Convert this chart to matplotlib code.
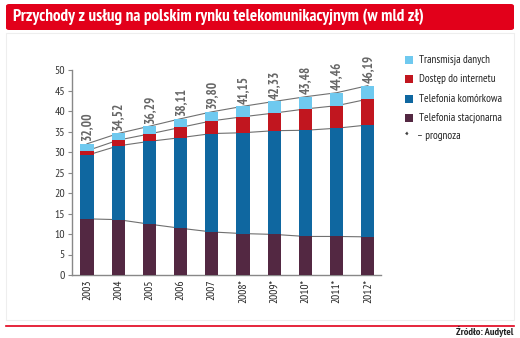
import numpy as np
import matplotlib.pyplot as plt
from matplotlib.patches import FancyBboxPatch, Rectangle

plt.rcParams['font.family'] = ['PT Sans Narrow', 'DejaVu Sans']

years     = ['2003', '2004', '2005', '2006', '2007', '2008*', '2009*', '2010*', '2011*', '2012*']
stacjon   = [13.7, 13.5, 12.4, 11.4, 10.5, 10.1, 9.9, 9.4, 9.4, 9.3]
komorkowa = [15.5, 18.0, 20.2, 22.1, 24.0, 24.6, 25.3, 25.9, 26.4, 27.3]
internet  = [1.1, 1.4, 1.8, 2.5, 3.1, 3.9, 4.3, 5.2, 5.5, 6.3]
totals    = [32.00, 34.52, 36.29, 38.11, 39.80, 41.15, 42.33, 43.48, 44.46, 46.19]
labels    = ['Transmisja danych', 'Dostęp do internetu', 'Telefonia komórkowa', 'Telefonia stacjonarna']
colors    = ['#6fc9ef', '#c1161f', '#0f67a0', '#532842']

s1 = np.array(stacjon)
s2 = s1 + np.array(komorkowa)
s3 = s2 + np.array(internet)
tot = np.array(totals)
transmisja = tot - s3

W, H = 520, 338
fig = plt.figure(figsize=(W/100, H/100), dpi=100)

# title banner
fig.patches.append(FancyBboxPatch((6/W, 1 - 30/H), 508/W, 26/H, boxstyle='round,pad=0,rounding_size=0.006',
                                  transform=fig.transFigure, facecolor='#e2001a', edgecolor='none'))
fig.text(13/W, 1 - 17/H, 'Przychody z usług na polskim rynku telekomunikacyjnym (w mld zł)',
         color='white', fontsize=12.3, fontweight='bold', va='center', ha='left')
# panel border and bottom line
fig.patches.append(Rectangle((6/W, 1 - 320/H), 508/W, 287/H, transform=fig.transFigure,
                             facecolor='none', edgecolor='#eeeeee', lw=0.8))
fig.lines.append(plt.Line2D([6/W, 514/W], [1 - 326/H, 1 - 326/H], transform=fig.transFigure,
                            color='#e2001a', lw=1.2))
fig.text(513/W, 1 - 332/H, 'Źródło: Audytel', ha='right', va='center', fontsize=7.5, fontweight='bold', color='#222222')

ax = fig.add_axes([72/W, 1 - 275/H, 309/W, 205/H])
x = np.arange(len(years))
bw = 0.42
ax.bar(x, stacjon, bw, color=colors[3], zorder=3)
ax.bar(x, komorkowa, bw, bottom=s1, color=colors[2], zorder=3)
ax.bar(x, internet, bw, bottom=s2, color=colors[1], zorder=3)
ax.bar(x, transmisja, bw, bottom=s3, color=colors[0], zorder=3)
for lv in (s1, s2, s3, tot):
    ax.plot(x, lv, color='#707070', lw=0.8, zorder=2)
for xi, t in zip(x, totals):
    ax.text(xi, t + 0.6, ('%.2f' % t).replace('.', ','), rotation=90, ha='center', va='bottom',
            fontsize=9.5, fontweight='bold', color='#666666')

ax.set_xlim(-0.48, 9.42)
ax.set_ylim(0, 50)
ax.set_yticks(np.arange(0, 51, 5))
ax.set_xticks(x)
ax.set_xticklabels(years, rotation=90, fontsize=8.3, color='#222222')
ax.tick_params(axis='x', length=0, pad=3)
ax.tick_params(axis='y', length=3, width=0.8, color='#888888', labelsize=8.5, labelcolor='#333333', pad=2)
for sp in ('top', 'right'):
    ax.spines[sp].set_visible(False)
for sp in ('left', 'bottom'):
    ax.spines[sp].set_color('#888888')
    ax.spines[sp].set_linewidth(1.0)

# legend
ly = [60, 79, 99, 118]
for yy, lab, c in zip(ly, labels, colors):
    fig.patches.append(Rectangle((405/W, 1 - (yy + 4)/H), 8/W, 8/H, transform=fig.transFigure,
                                 facecolor=c, edgecolor='none'))
    fig.text(419/W, 1 - yy/H, lab, fontsize=8, va='center', ha='left', color='#222222')
fig.text(405/W, 1 - 137/H, '*', fontsize=9, va='center', ha='left', color='#222222')
fig.text(417/W, 1 - 136/H, '– prognoza', fontsize=8, va='center', ha='left', color='#222222')

fig.savefig('out.png', dpi=100)
